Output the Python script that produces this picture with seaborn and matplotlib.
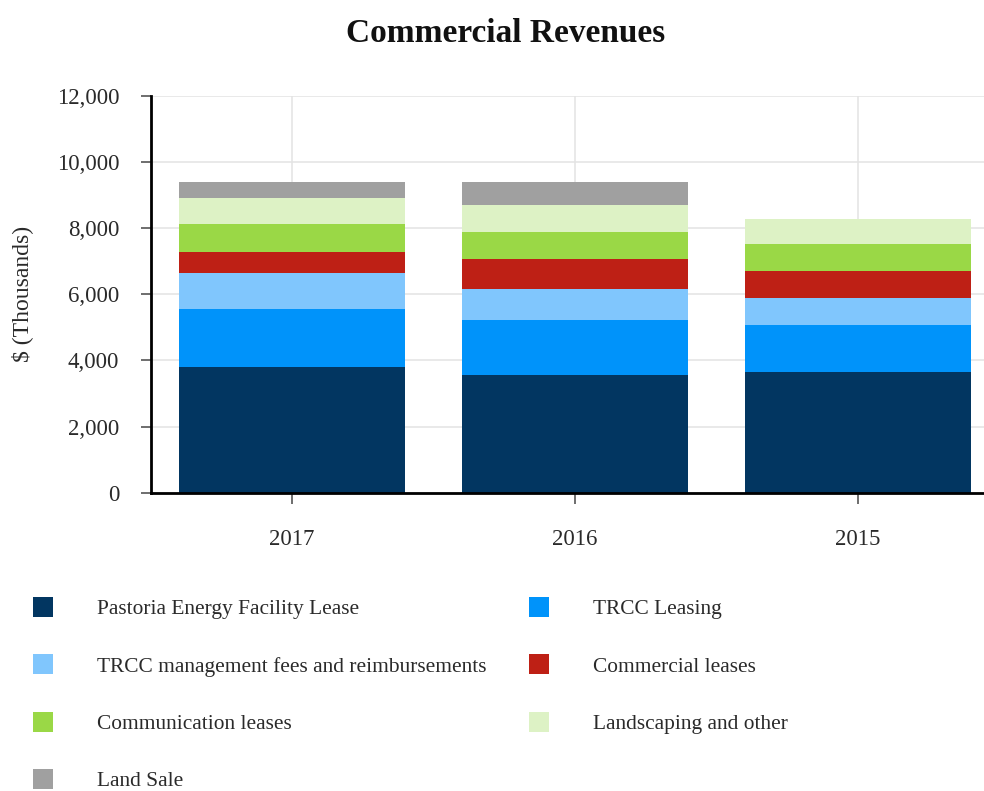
import numpy as np
import pandas as pd
import matplotlib
matplotlib.use("Agg")
import matplotlib.pyplot as plt
import seaborn as sns
from matplotlib.ticker import FuncFormatter
from matplotlib.patches import Patch

# ---- data ----
years = ["2017", "2016", "2015"]
series_names = [
    "Pastoria Energy Facility Lease",
    "TRCC Leasing",
    "TRCC management fees and reimbursements",
    "Commercial leases",
    "Communication leases",
    "Landscaping and other",
    "Land Sale",
]
pastoria = [3810, 3570, 3650]
trcc_leasing = [1750, 1640, 1415]
trcc_mgmt = [1080, 960, 810]
commercial = [655, 910, 825]
communication = [830, 800, 810]
landscaping = [775, 830, 755]
land_sale = [485, 690, 0]
colors = ["#023661", "#0093FA", "#80C6FD", "#BE2015", "#9AD846", "#DDF2C5", "#A0A0A0"]
yticks = [0, 2000, 4000, 6000, 8000, 10000, 12000]

values = [pastoria, trcc_leasing, trcc_mgmt, commercial, communication, landscaping, land_sale]

sns.set_theme(style="white")
plt.rcParams["font.family"] = ["Liberation Serif", "DejaVu Serif"]

fig = plt.figure(figsize=(9.84, 7.91), dpi=100)
ax = fig.add_axes([150.5 / 984, 1 - 492.7 / 791, 849 / 984, (492.7 - 96) / 791])

cum = np.cumsum(np.array(values, dtype=float), axis=0)
# draw from the tallest cumulative stack down so lower segments overlay
for i in range(len(series_names) - 1, -1, -1):
    df = pd.DataFrame({"year": years, "top": cum[i]})
    sns.barplot(data=df, x="year", y="top", order=years, color=colors[i],
                saturation=1, width=0.8, linewidth=0, ax=ax, zorder=2)

ax.set_ylim(0, 12000)
ax.set_xlim(-0.5, 2.5)
ax.set_yticks(yticks)
ax.yaxis.set_major_formatter(FuncFormatter(lambda v, p: f"{v:,.0f}"))
ax.grid(True, axis="both", color="#E3E3E3", linewidth=1.1, zorder=0)
ax.set_axisbelow(True)
for s in ["top", "right"]:
    ax.spines[s].set_visible(False)
for s in ["left", "bottom"]:
    ax.spines[s].set_visible(True)
    ax.spines[s].set_color("black")
    ax.spines[s].set_linewidth(2)
ax.spines["left"].set_zorder(5)
ax.spines["bottom"].set_zorder(5)

ax.tick_params(axis="y", which="major", left=True, length=7.5, width=1.2,
               color="#555555", pad=15, labelsize=16.5, labelcolor="#2a2a2a")
ax.tick_params(axis="x", which="major", bottom=True, length=8, width=1.2,
               color="#555555", pad=18, labelsize=16.5, labelcolor="#2a2a2a")
ax.set_xlabel("")
ax.set_ylabel("")

fig.text(22 / 984, 1 - 294 / 791, "$ (Thousands)", rotation=90, ha="center",
         va="center", fontsize=17, color="#2a2a2a")
fig.text(506 / 984, 1 - 42 / 791, "Commercial Revenues", ha="center",
         va="baseline", fontsize=24, fontweight="bold", color="#111111")

# legend (row-major in reference -> column order for matplotlib)
order = [0, 2, 4, 6, 1, 3, 5]
handles = [Patch(facecolor=colors[k], edgecolor="none") for k in order]
labels = [series_names[k] for k in order]
fig.legend(handles, labels, ncol=2, loc="upper left",
           bbox_to_anchor=(33 / 984, 1 - 597 / 791), frameon=False,
           fontsize=15.4, handlelength=0.93, handleheight=1.05,
           handletextpad=2.05, labelspacing=1.645, columnspacing=2.0,
           borderpad=0, borderaxespad=0, labelcolor="#2a2a2a")

fig.savefig("out.png", dpi=100)
